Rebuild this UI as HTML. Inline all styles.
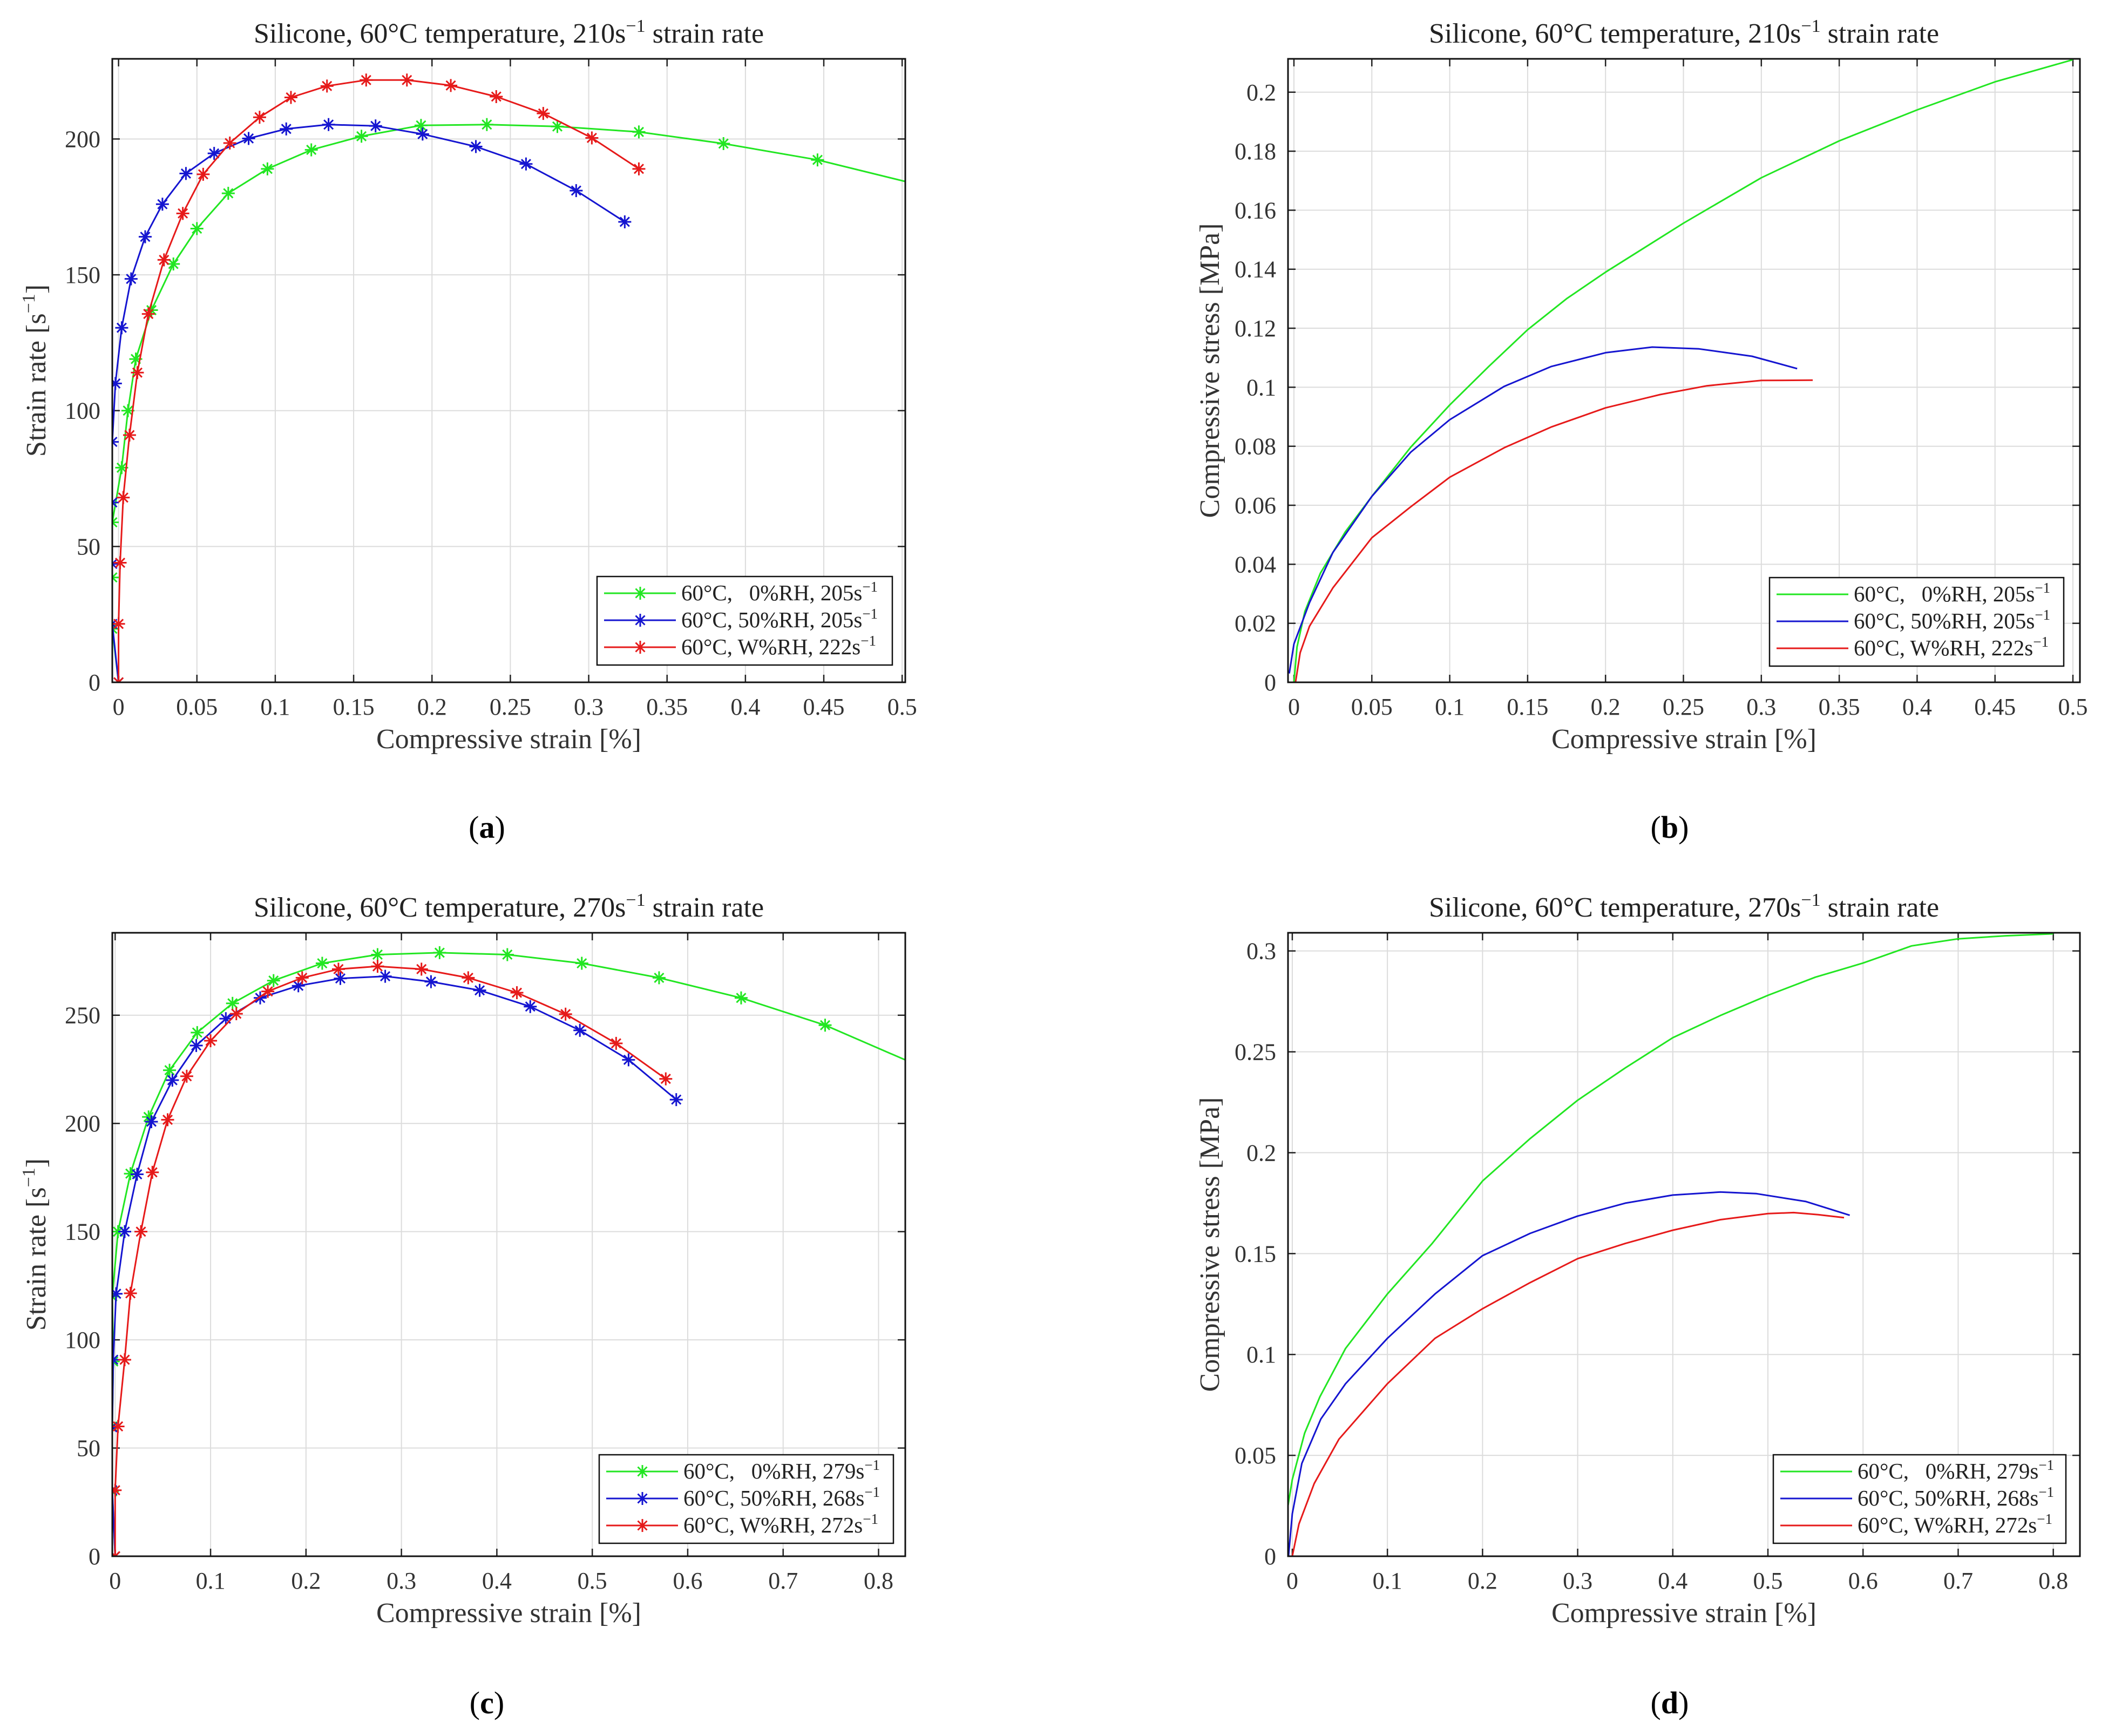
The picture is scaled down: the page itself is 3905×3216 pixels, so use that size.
<!DOCTYPE html>
<html><head><meta charset="utf-8">
<style>
html,body{margin:0;padding:0;background:#fff;}
svg{display:block;font-family:"Liberation Serif",serif;}
</style></head>
<body>
<svg id="fig" xmlns="http://www.w3.org/2000/svg" width="3905" height="3216" viewBox="0 0 3905 3216">
<rect x="0" y="0" width="3905" height="3216" fill="#fff"/>
</svg>
<script>
// ---------- DATA ----------
const aGreenX=[0,-0.004,-0.004,-0.004,0.002,0.006,0.011,0.021,0.035,0.050,0.070,0.095,0.123,0.155,0.193,0.235,0.280,0.332,0.386,0.446,0.508];
const aGreenY=[0,19.7,38.6,58.9,79,100,119,137,154,167,180,189,196,201,205,205.3,204.6,202.6,198.3,192.3,183.5];
const aBlueX=[0,-0.004,-0.004,-0.004,-0.004,-0.002,0.002,0.008,0.017,0.028,0.043,0.061,0.083,0.107,0.134,0.164,0.194,0.228,0.260,0.292,0.323];
const aBlueY=[0,21.5,43.6,66.2,88.5,110,130.5,148.5,164,176,187.3,194.7,200.2,203.7,205.3,204.8,201.8,197.2,190.8,181,169.5];
const aRedX=[0,0,0.001,0.003,0.007,0.012,0.019,0.029,0.041,0.054,0.071,0.090,0.110,0.133,0.158,0.184,0.212,0.241,0.271,0.302,0.332];
const aRedY=[0,21.5,44,68,91,114,135.6,155.5,172.6,187,198.5,208,215.3,219.5,221.7,221.7,219.7,215.6,209.4,200.4,189];
const bGreenX=[0,0.002,0.007,0.017,0.033,0.05,0.075,0.1,0.125,0.15,0.175,0.2,0.25,0.3,0.35,0.4,0.45,0.5];
const bGreenY=[0,0.012,0.024,0.037,0.051,0.063,0.0797,0.094,0.107,0.1195,0.13,0.139,0.1556,0.171,0.1835,0.194,0.2035,0.211];
const bBlueX=[-0.003,0,0.01,0.025,0.05,0.075,0.1,0.135,0.165,0.2,0.23,0.26,0.294,0.323];
const bBlueY=[0.003,0.013,0.027,0.044,0.063,0.078,0.089,0.1003,0.107,0.1117,0.1136,0.113,0.1105,0.1063];
const bRedX=[0.001,0.004,0.01,0.025,0.05,0.075,0.1,0.135,0.165,0.2,0.235,0.265,0.3,0.333];
const bRedY=[0,0.01,0.019,0.032,0.049,0.0595,0.0695,0.0795,0.0865,0.093,0.0975,0.1005,0.1023,0.1024];
const cGreenX=[0,-0.003,-0.003,-0.002,-0.003,0.003,0.016,0.035,0.057,0.086,0.123,0.166,0.217,0.275,0.340,0.411,0.489,0.570,0.656,0.744,0.835];
const cGreenY=[0,30,60,90,120,150,176.8,203,224.6,242,255.5,266,274,278,278.9,278,274,267.3,258,245.4,228];
const cBlueX=[0,-0.003,-0.003,-0.002,0.001,0.010,0.023,0.038,0.060,0.085,0.116,0.152,0.192,0.236,0.283,0.331,0.382,0.435,0.487,0.538,0.588];
const cBlueY=[0,30.5,59.6,90.8,121.3,150,176.5,200.8,220,236,248.4,258,263.6,267,268,265.5,261.5,254,243,229.4,211];
const cRedX=[0,0,0.003,0.010,0.016,0.027,0.039,0.055,0.075,0.100,0.127,0.160,0.196,0.234,0.275,0.321,0.370,0.421,0.472,0.525,0.577];
const cRedY=[0,30.5,60,90.8,121.5,150,177.4,201.7,221.8,238.2,250.7,261,267.3,271.3,272.6,271.3,267.3,260.4,250.5,237,220.6];
const dGreenX=[-0.005,0,0.013,0.029,0.056,0.1,0.147,0.2,0.25,0.3,0.35,0.4,0.45,0.5,0.55,0.6,0.651,0.7,0.75,0.8];
const dGreenY=[0.0236,0.038,0.061,0.079,0.103,0.130,0.155,0.186,0.207,0.226,0.242,0.257,0.268,0.278,0.287,0.294,0.3025,0.306,0.3075,0.3085];
const dBlueX=[-0.004,0,0.01,0.03,0.056,0.1,0.15,0.2,0.25,0.3,0.35,0.4,0.45,0.488,0.54,0.586];
const dBlueY=[0,0.021,0.046,0.068,0.0855,0.108,0.130,0.149,0.160,0.1686,0.175,0.179,0.1805,0.1797,0.1758,0.169];
const dRedX=[0,0.007,0.023,0.049,0.1,0.15,0.2,0.25,0.3,0.35,0.4,0.45,0.5,0.527,0.553,0.58];
const dRedY=[0,0.016,0.036,0.058,0.0855,0.108,0.1227,0.1356,0.1475,0.155,0.1616,0.1668,0.1698,0.1703,0.1693,0.1678];
const ticksXa=[0,0.05,0.1,0.15,0.2,0.25,0.3,0.35,0.4,0.45,0.5];
const ticksYa=[0,50,100,150,200];
const ticksYb=[0,0.02,0.04,0.06,0.08,0.1,0.12,0.14,0.16,0.18,0.2];
const ticksXc=[0,0.1,0.2,0.3,0.4,0.5,0.6,0.7,0.8];
const ticksYc=[0,50,100,150,200,250];
const ticksYd=[0,0.05,0.1,0.15,0.2,0.25,0.3];
const legendA=["0%RH, 205s","50%RH, 205s","W%RH, 222s"];
const legendC=["0%RH, 279s","50%RH, 268s","W%RH, 272s"];

const NS="http://www.w3.org/2000/svg";
const svg=document.getElementById('fig');
function mk(tag,attrs,parent){const e=document.createElementNS(NS,tag);for(const k in attrs)e.setAttribute(k,attrs[k]);(parent||svg).appendChild(e);return e;}
const COL={g:"#22e622",b:"#1515d0",r:"#e61a1a"};
function fmt(v){return String(+v.toFixed(4));}

function panel(p){
  const g=mk('g',{});
  
  
  const sx=v=>p.L+(v-p.xmin)/(p.xmax-p.xmin)*(p.R-p.L);
  const sy=v=>p.B-(v-p.ymin)/(p.ymax-p.ymin)*(p.B-p.T);
  const cid='clip-'+p.name;
  const cp=mk('clipPath',{id:cid},g);mk('rect',{x:p.L,y:p.T,width:p.R-p.L,height:p.B-p.T},cp);
  const grid=mk('g',{stroke:'#dcdcdc','stroke-width':2},g);
  
  
  p.xt.forEach(v=>{mk('line',{x1:sx(v),x2:sx(v),y1:p.T,y2:p.B},grid);});
  p.yt.forEach(v=>{mk('line',{x1:p.L,x2:p.R,y1:sy(v),y2:sy(v)},grid);});
  const tk=mk('g',{stroke:'#222','stroke-width':2.5},g);
  p.xt.forEach(v=>{const x=sx(v);mk('line',{x1:x,x2:x,y1:p.B,y2:p.B-14},tk);mk('line',{x1:x,x2:x,y1:p.T,y2:p.T+14},tk);
    const t=mk('text',{x:x,y:p.B+60,'text-anchor':'middle','font-size':44,fill:'#333'},g);t.textContent=fmt(v);
    
    });
  p.yt.forEach(v=>{const y=sy(v);mk('line',{x1:p.L,x2:p.L+14,y1:y,y2:y},tk);mk('line',{x1:p.R,x2:p.R-14,y1:y,y2:y},tk);
    const t=mk('text',{x:p.L-22,y:y+15,'text-anchor':'end','font-size':44,fill:'#333'},g);t.textContent=fmt(v);
    
    });
  const plotg=mk('g',{'clip-path':'url(#'+cid+')'},g);
  p.series.forEach(s=>{
    const sg=mk('g',{},plotg);
    
    
    const pts=s.x.map((v,i)=>sx(v).toFixed(1)+','+sy(s.y[i]).toFixed(1)).join(' ');
    mk('polyline',{points:pts,fill:'none',stroke:s.c,'stroke-width':3,'stroke-linejoin':'round'},sg);
    if(p.markers){s.x.forEach((v,i)=>{star(sx(v),sy(s.y[i]),s.c,sg);});}
  });
  const box=mk('rect',{x:p.L,y:p.T,width:p.R-p.L,height:p.B-p.T,fill:'none',stroke:'#111','stroke-width':3},g);
  
  
  const cx=(p.L+p.R)/2;
  const tt=mk('text',{x:cx,y:p.T-30,'text-anchor':'middle','font-size':52,fill:'#222'},g);
  
  
  tt.innerHTML='Silicone, 60°C temperature, '+p.rate+'s<tspan font-size="34" dy="-20">−1</tspan><tspan dy="20"> strain rate</tspan>';
  const xl=mk('text',{x:cx,y:p.B+122,'text-anchor':'middle','font-size':52,fill:'#333'},g);
  xl.textContent='Compressive strain [%]';
  
  
  const yl=mk('text',{x:0,y:0,'text-anchor':'middle','font-size':52,fill:'#333',transform:'translate('+p.ylx+','+(p.T+p.B)/2+') rotate(-90)'},g);
  yl.innerHTML=p.ylabel;
  
  
  const lg=mk('g',{},g);
  
  
  mk('rect',{x:p.lx,y:p.ly,width:p.lw,height:164,fill:'#fff',stroke:'#111','stroke-width':2.5},lg);
  p.series.forEach((s,i)=>{
    const y=p.ly+31+i*50;
    const e=mk('g',{},lg);
    
    
    mk('line',{x1:p.lx+13,x2:p.lx+146,y1:y,y2:y,stroke:s.c,'stroke-width':3},e);
    if(p.markers)star(p.lx+80,y,s.c,e);
    const t=mk('text',{x:p.lx+156,y:y+13,'font-size':41,fill:'#222'},e);
    const pre=i===0?'60°C, &#160;&#160;':'60°C, ';
    t.innerHTML=pre+p.leg[i]+'<tspan font-size="27" dy="-16">−1</tspan>';
  });
  const cap=mk('text',{x:p.capx,y:p.capy,'text-anchor':'middle','font-size':58,fill:'#000'},svg);
  cap.innerHTML='(<tspan font-weight="bold">'+p.cap+'</tspan>)';
  
  
}
function star(x,y,c,parent){
  const r=12,d=8.5;
  mk('path',{d:`M${x-r},${y}H${x+r}M${x},${y-r}V${y+r}M${x-d},${y-d}L${x+d},${y+d}M${x-d},${y+d}L${x+d},${y-d}`,stroke:c,'stroke-width':3,fill:'none'},parent);
}
const SR='Strain rate [s<tspan font-size="34" dy="-20">−1</tspan><tspan dy="20">]</tspan>';
const CS='Compressive stress [MPa]';
panel({name:'panel-a',L:208,R:1677,T:109,B:1264,xmin:-0.004,xmax:0.502,ymin:0,ymax:229.5,xt:ticksXa,yt:ticksYa,markers:true,rate:'210',ylabel:SR,ylx:84,
  lx:1106,ly:1068,lw:547,leg:legendA,cap:'a',capx:902,capy:1552,
  series:[{name:'series-0rh',x:aGreenX,y:aGreenY,c:COL.g},{name:'series-50rh',x:aBlueX,y:aBlueY,c:COL.b},{name:'series-wrh',x:aRedX,y:aRedY,c:COL.r}]});
panel({name:'panel-b',L:2386,R:3853,T:109,B:1264,xmin:-0.0038,xmax:0.5045,ymin:0,ymax:0.2113,xt:ticksXa,yt:ticksYb,markers:false,rate:'210',ylabel:CS,ylx:2258,
  lx:3278,ly:1070,lw:545,leg:legendA,cap:'b',capx:3093,capy:1552,
  series:[{name:'series-0rh',x:bGreenX,y:bGreenY,c:COL.g},{name:'series-50rh',x:bBlueX,y:bBlueY,c:COL.b},{name:'series-wrh',x:bRedX,y:bRedY,c:COL.r}]});
panel({name:'panel-c',L:208,R:1677,T:1728,B:2883,xmin:-0.003,xmax:0.828,ymin:0,ymax:288.1,xt:ticksXc,yt:ticksYc,markers:true,rate:'270',ylabel:SR,ylx:84,
  lx:1110,ly:2695,lw:545,leg:legendC,cap:'c',capx:902,capy:3174,
  series:[{name:'series-0rh',x:cGreenX,y:cGreenY,c:COL.g},{name:'series-50rh',x:cBlueX,y:cBlueY,c:COL.b},{name:'series-wrh',x:cRedX,y:cRedY,c:COL.r}]});
panel({name:'panel-d',L:2386,R:3853,T:1728,B:2883,xmin:-0.0045,xmax:0.828,ymin:0,ymax:0.309,xt:ticksXc,yt:ticksYd,markers:false,rate:'270',ylabel:CS,ylx:2258,
  lx:3285,ly:2695,lw:542,leg:legendC,cap:'d',capx:3093,capy:3174,
  series:[{name:'series-0rh',x:dGreenX,y:dGreenY,c:COL.g},{name:'series-50rh',x:dBlueX,y:dBlueY,c:COL.b},{name:'series-wrh',x:dRedX,y:dRedY,c:COL.r}]});
</script>
</body></html>
